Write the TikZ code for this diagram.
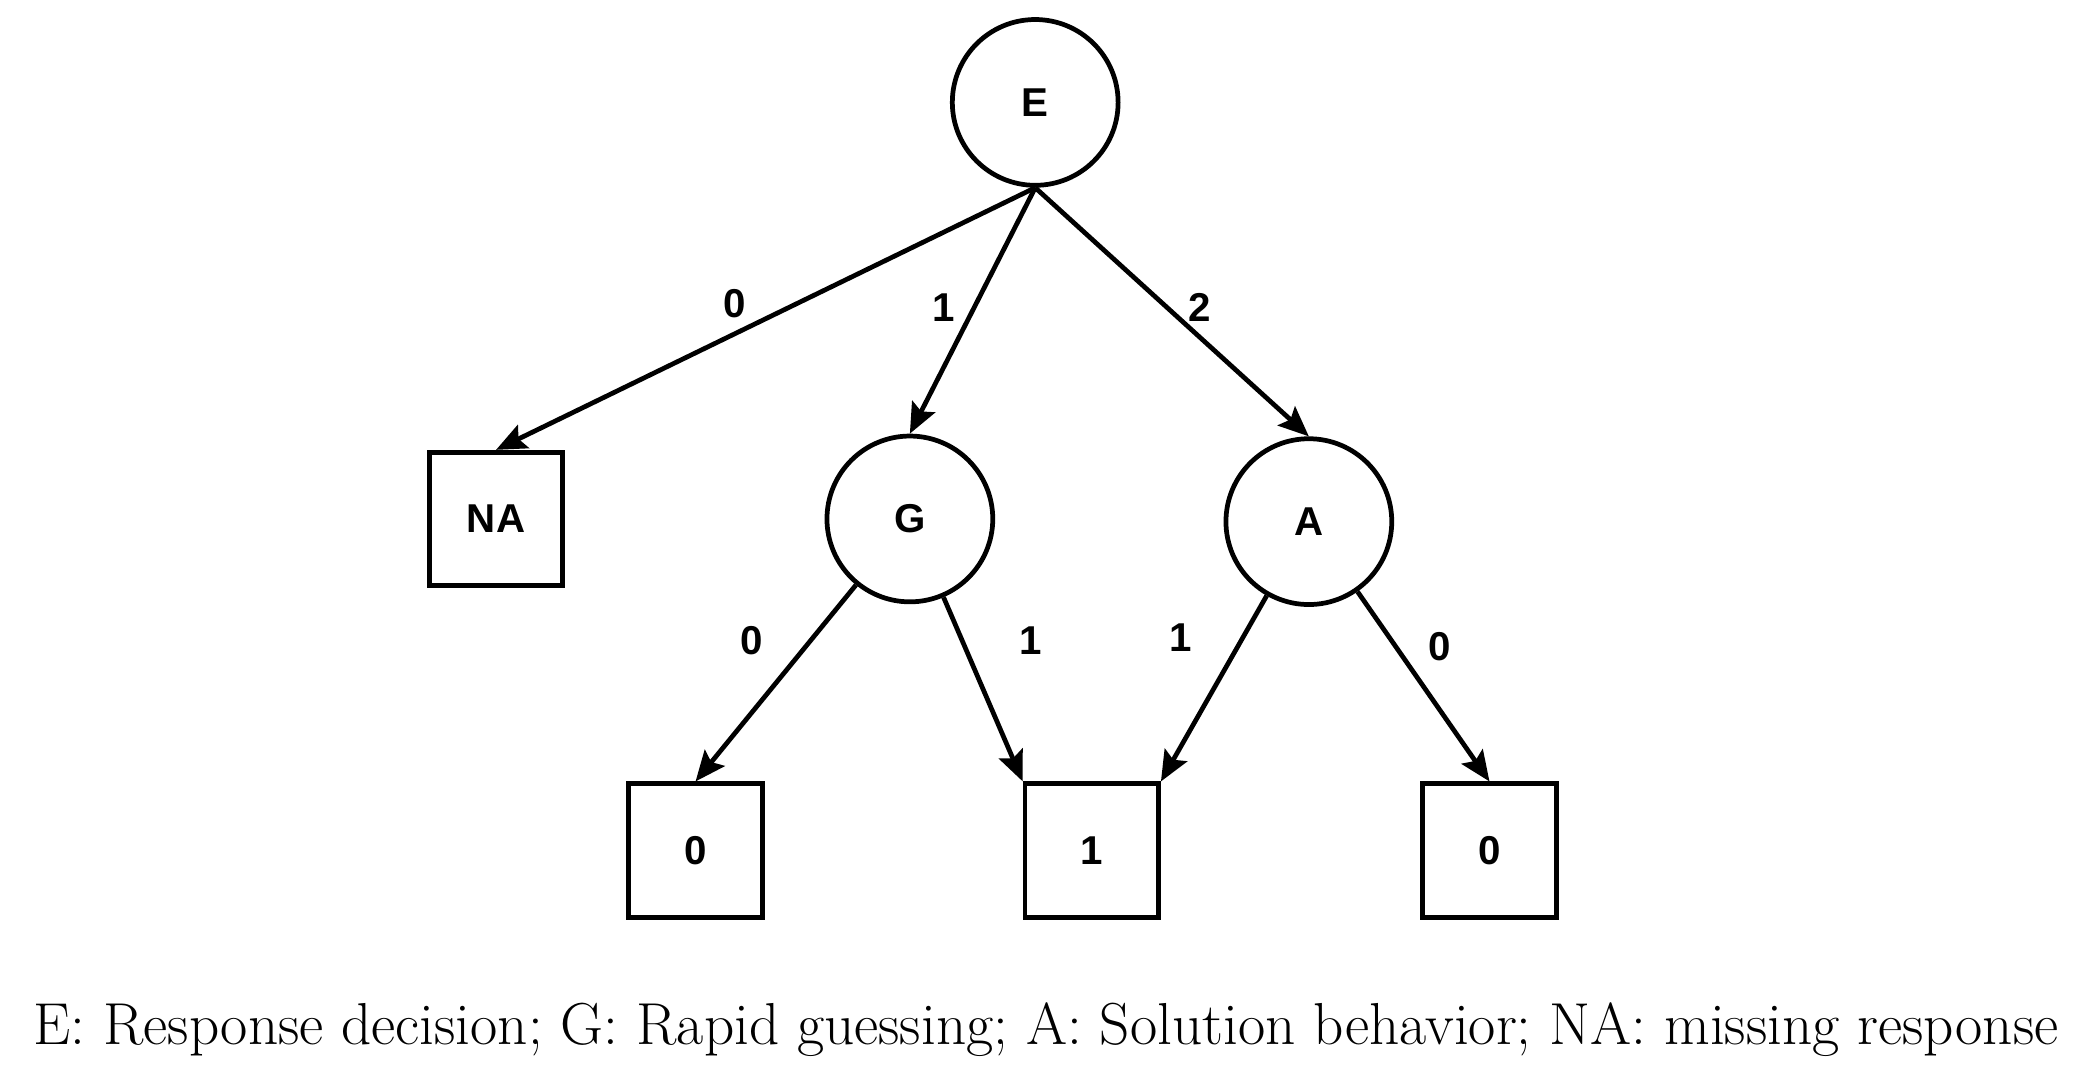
\documentclass[tikz,border=0pt]{standalone}
\usepackage{fontspec}
\newfontfamily\arialfont{Liberation Sans}
\usetikzlibrary{calc}
\usetikzlibrary{positioning}
\usetikzlibrary{arrows.meta}

\begin{document}
\begin{tikzpicture}[every node/.style={font=\arialfont\bfseries\fontsize{17}{20}\selectfont},
        state/.style={draw, circle, line width=2pt, minimum size=2.46cm, inner sep=0pt},
        leaf/.style={draw, rectangle, line width=2pt, minimum size=1.98cm, inner sep=0pt},
        branch/.style={draw, line width=2pt, -{Stealth[length=4.5mm, width=3.8mm, inset=0.8mm]}}]
        \useasboundingbox (0,0) rectangle (31.04,16.0);
        
        \node[state] (decision) at (15.36,14.48) {E};
        
        \node[leaf] (missing) at (7.36,8.3) {NA};
        \node[state] (guess) at (13.5,8.3) {G};
        \node[state] (solve) at (19.42,8.26) {A};
        
        \node[leaf] (guess wrong) at (10.32,3.38) {0};
        \node[leaf] (correct) at (16.2,3.38) {1};
        \node[leaf] (solve wrong) at (22.1,3.38) {0};
        
        \draw[branch] (decision.south) -- (missing.north);
        \draw[branch] (decision.south) -- (guess.north);
        \draw[branch] (decision.south) -- (solve.north);
        \draw[branch] (guess) -- (guess wrong.north);
        \draw[branch] (guess) -- (correct.north west);
        \draw[branch] (solve) -- (correct.north east);
        \draw[branch] (solve) -- (solve wrong.north);
        
        \node at (10.9,11.5) {0};
        \node at (14.0,11.44) {1};
        \node at (17.8,11.44) {2};
        \node at (11.16,6.5) {0};
        \node at (15.3,6.5) {1};
        \node at (17.52,6.54) {1};
        \node at (21.36,6.4) {0};
        
        \node[font=\rmfamily\fontsize{25}{30}\selectfont] (caption) at (15.52,0.72) {E: Response decision; G: Rapid guessing; A: Solution behavior; NA: missing response};
    \end{tikzpicture}
\end{document}
